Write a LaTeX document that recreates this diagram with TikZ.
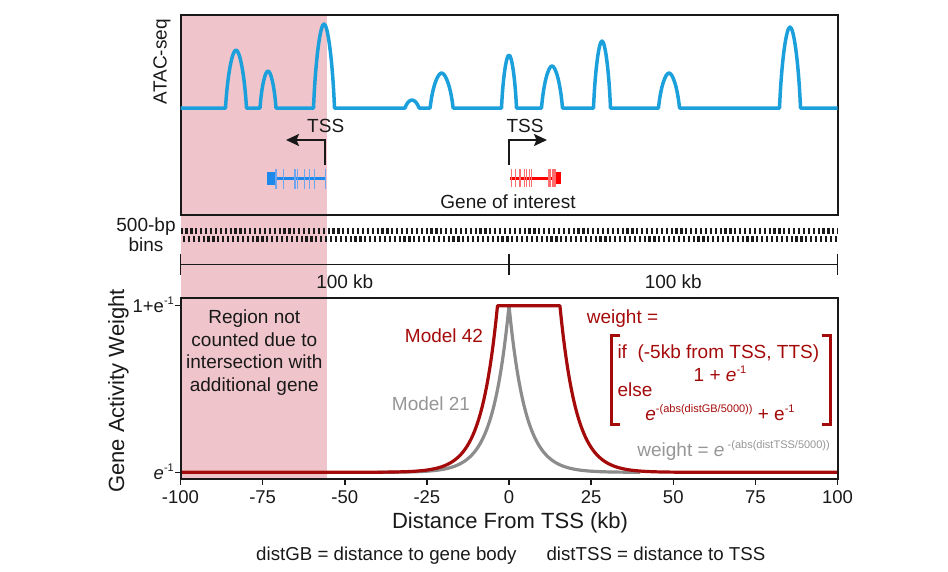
\documentclass[tikz,border=0pt]{standalone}
\usepackage{fontspec}
\setmainfont{Liberation Sans}
\usetikzlibrary{arrows.meta}
\definecolor{pinkbg}{RGB}{239,197,203}
\definecolor{atac}{RGB}{28,160,220}
\definecolor{genebl}{RGB}{30,136,235}
\definecolor{genebllt}{RGB}{110,165,240}
\definecolor{genered}{RGB}{255,0,0}
\definecolor{generedlt}{RGB}{255,110,110}
\definecolor{dred}{RGB}{165,10,10}
\definecolor{mgray}{RGB}{140,140,140}
\definecolor{tgray}{RGB}{150,150,150}
\definecolor{ink}{RGB}{25,25,25}
\newcommand{\fsz}[2]{\fontsize{#1pt}{#2pt}\selectfont}
\newcommand{\supr}[1]{\raisebox{0.42em}{\fontsize{11pt}{11pt}\selectfont #1}}
\tikzset{
  lbl/.style={font=\fsz{19}{22.8}, text=ink, inner sep=0pt},
  ticklbl/.style={font=\fsz{18.5}{22}, text=ink, inner sep=0pt, anchor=base},
  axtitle/.style={font=\fsz{22}{26}, text=ink, inner sep=0pt, anchor=base},
  frame/.style={draw=ink, line width=2pt},
  curve/.style={line width=3.2pt, line join=round},
  tssarrow/.style={draw=ink, line width=2pt, -{Stealth[length=13pt,width=12pt,inset=2.5pt]}},
  binrow/.style={draw=ink, line width=6.5pt, dash pattern=on 2.2pt off 2.7pt},
}
\begin{document}
\begin{tikzpicture}[x=1pt,y=-1pt]
\useasboundingbox (0,0) rectangle (948,571);
% excluded region
\fill[pinkbg] (180.5,15) rectangle (326.5,479);
% ATAC box
\draw[frame] (180.5,15) rectangle (837.5,215);
\draw[atac, line width=3.5pt, line join=round] (180.5,108)
  \foreach \c/\w/\t in {236/21/50, 268/16/71, 324/21/24, 412/14/100, 441.6/23/73, 509/15/55, 552/21/66, 602/17/41, 669/21/73, 790/21/27} {
    -- ({\c-\w/2},108)
    .. controls ({\c-0.40*\w},{\t+0.40*(108-\t)}) and ({\c-0.17*\w},\t) .. (\c,\t)
    .. controls ({\c+0.17*\w},\t) and ({\c+0.40*\w},{\t+0.40*(108-\t)}) .. ({\c+\w/2},108)
  } -- (837.5,108);
\node[lbl, rotate=90, anchor=base] (atac) at (166.7,61.7) {ATAC-seq};
% TSS arrows
\coordinate (tssLbot) at (325,165);
\coordinate (tssLtip) at (286,140);
\coordinate (tssRbot) at (509,165);
\coordinate (tssRtip) at (547,140);
\draw[tssarrow] (tssLbot) |- (tssLtip);
\draw[tssarrow] (tssRbot) |- (tssRtip);
\node[lbl, anchor=base] (tssLlbl) at (325.7,132.8) {TSS};
\node[lbl, anchor=base] (tssRlbl) at (525,132.8) {TSS};
% left gene (blue)
\draw[genebl, line width=3pt] (273.5,178) -- (325.5,178);
\fill[genebl] (267,172) rectangle (274.5,184.5);
\foreach \x in {276,283.3,295,297.3,304.3,309.3,314.3,325.5}
  \draw[genebllt, line width=1.2pt] (\x,169) -- (\x,189);
% gene of interest (red)
\draw[genered, line width=3pt] (509.5,178) -- (557,178);
\fill[genered] (555.5,172) rectangle (560.5,184);
\foreach \x in {511.7,515.7,520,524.3,526.7,529.3,531.2,548.3,550,552.3,554,555.7}
  \draw[generedlt, line width=1.2pt] (\x,169) -- (\x,187);
\node[lbl, anchor=base] (goi) at (508,208.2) {Gene of interest};
% bins
\draw[binrow] (180.5,231) -- (837.5,231);
\draw[binrow, dash phase=2.45pt] (180.5,239) -- (837.5,239);
\node[lbl, anchor=base] (bp) at (146,231.7) {500-bp};
\node[lbl, anchor=base] (bins) at (146,251.7) {bins};
% scale bar
\draw[ink, line width=1.6pt] (180.5,264.5) -- (837.5,264.5);
\foreach \x in {180.5,509,837.5}
  \draw[ink, line width=1.6pt] (\x,253.5) -- (\x,275);
\node[lbl, anchor=base] (kbL) at (344.8,288.5) {100 kb};
\node[lbl, anchor=base] (kbR) at (673.3,288.5) {100 kb};
% plot
\node[lbl, align=center] (region) at (254.3,352.5) {Region not\\counted due to\\intersection with\\additional gene};
\draw[mgray, curve] plot[domain=-40:40, samples=161] ({509+3.285*\x},{472.3-166.6*exp(-abs(\x)/5)});
\draw[dred, curve] (180.5,472.3)
  -- plot[domain=-40:-3.5, samples=80] ({509+3.285*\x},{472.3-166.6*exp((\x+3.5)/5)})
  -- ({509+3.285*15.5},305.7)
  -- plot[domain=15.5:60, samples=90] ({509+3.285*\x},{472.3-166.6*exp(-(\x-15.5)/5)})
  -- (837.5,472.3);
\draw[frame] (180.5,298) rectangle (837.5,479);
\draw[ink, line width=1.5pt] (175,305.7) -- (180.5,305.7);
\draw[ink, line width=1.5pt] (175,472.3) -- (180.5,472.3);
\foreach \k in {-100,-75,...,100} {
  \draw[ink, line width=1.5pt] ({509+3.285*\k},479) -- ({509+3.285*\k},485);
  \node[ticklbl] at ({509+3.285*\k},503.7) {\k};
}
\node[ticklbl, anchor=base east] (ytop) at (174,312.5) {1+e\supr{-1}};
\node[ticklbl, anchor=base east] (ybot) at (174,479.1) {\textit{e}\supr{-1}};
\node[axtitle, rotate=90] (ytitle) at (124,391) {Gene Activity Weight};
\node[axtitle] (xtitle) at (510,528) {Distance From TSS (kb)};
% model labels
\node[lbl, text=dred, anchor=base] (m42) at (444,342.5) {Model 42};
\node[lbl, text=tgray, anchor=base] (m21) at (431,410.1) {Model 21};
% formula
\node[lbl, text=dred, anchor=base west] (w1) at (586.7,323.5) {weight =};
\draw[dred, line width=3pt] (620,335.7) -- (611.7,335.7) -- (611.7,424.3) -- (620,424.3);
\draw[dred, line width=3pt] (821.7,335.7) -- (830,335.7) -- (830,424.3) -- (821.7,424.3);
\node[lbl, text=dred, anchor=base west] (fif) at (617.3,358.5) {if\ \ (-5kb from TSS, TTS)};
\node[lbl, text=dred, anchor=base] (fone) at (720,381) {1 + \textit{e}\supr{-1}};
\node[lbl, text=dred, anchor=base west] (felse) at (617.3,396) {else};
\node[lbl, text=dred, anchor=base] (fexp) at (720,420) {\textit{e}\supr{-(abs(distGB/5000))} + e\supr{-1}};
\node[lbl, text=tgray, anchor=base east] (w2) at (830,456.8) {weight = \textit{e}\,\supr{-(abs(distTSS/5000))}};
% footnote
\node[font=\fsz{18.7}{22}, text=ink, inner sep=0pt, anchor=base west] (foot) at (256,560) {distGB = distance to gene body\hspace{30pt}distTSS = distance to TSS};
\end{tikzpicture}
\end{document}
